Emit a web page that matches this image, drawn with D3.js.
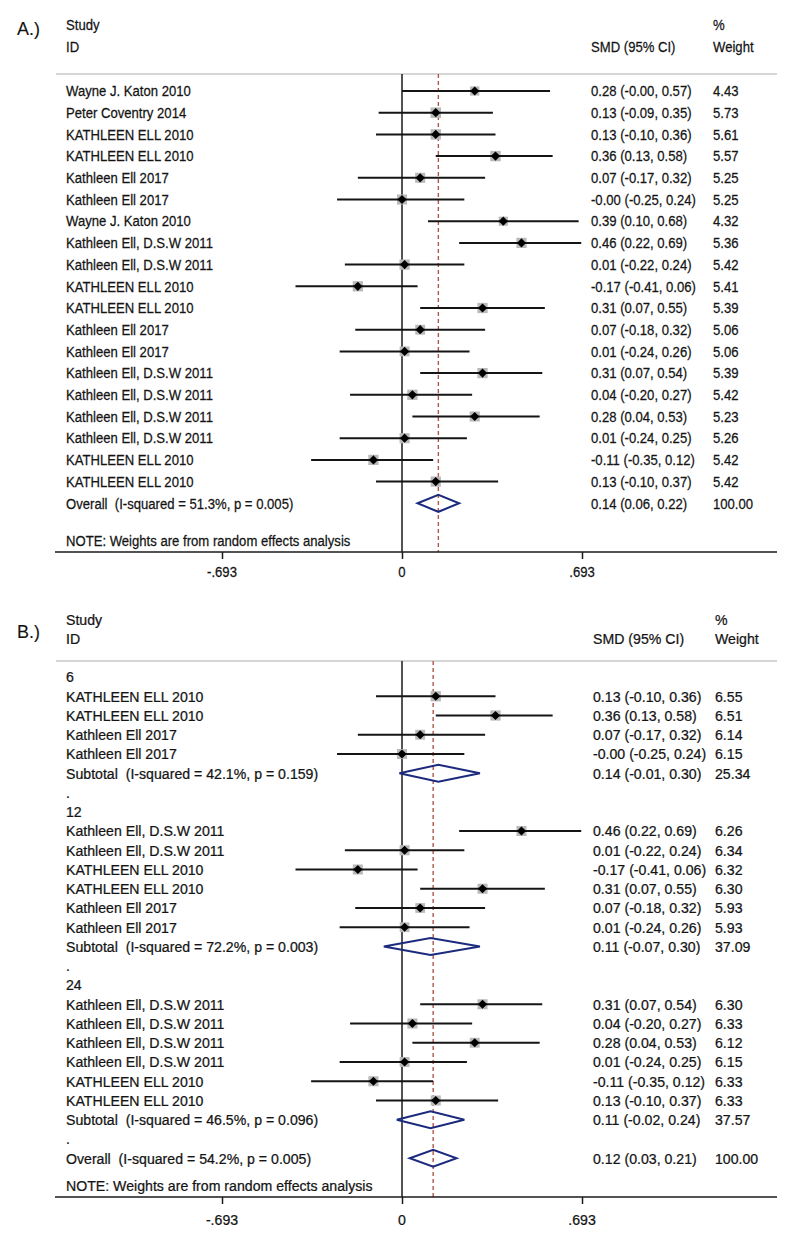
<!DOCTYPE html>
<html><head><meta charset="utf-8">
<script src="https://cdn.jsdelivr.net/npm/d3@7"></script>
<style>
html,body{margin:0;padding:0;background:#fff;}
svg{display:block;}
text{font-family:"Liberation Sans",Arial,sans-serif;fill:#141414;stroke:#141414;stroke-width:0.25px;white-space:pre;}
</style></head>
<body>
<div id="chart"></div>
<script>
// ---------- Panel A data ----------
const studiesA = ["Wayne J. Katon 2010","Peter Coventry 2014","KATHLEEN ELL 2010","KATHLEEN ELL 2010",
  "Kathleen Ell 2017","Kathleen Ell 2017","Wayne J. Katon 2010","Kathleen Ell, D.S.W 2011",
  "Kathleen Ell, D.S.W 2011","KATHLEEN ELL 2010","KATHLEEN ELL 2010","Kathleen Ell 2017",
  "Kathleen Ell 2017","Kathleen Ell, D.S.W 2011","Kathleen Ell, D.S.W 2011","Kathleen Ell, D.S.W 2011",
  "Kathleen Ell, D.S.W 2011","KATHLEEN ELL 2010","KATHLEEN ELL 2010"];
const esA     = [0.28, 0.13, 0.13, 0.36, 0.07, -0.00, 0.39, 0.46, 0.01, -0.17, 0.31, 0.07, 0.01, 0.31, 0.04, 0.28, 0.01, -0.11, 0.13];
const lowerA  = [-0.00, -0.09, -0.10, 0.13, -0.17, -0.25, 0.10, 0.22, -0.22, -0.41, 0.07, -0.18, -0.24, 0.07, -0.20, 0.04, -0.24, -0.35, -0.10];
const upperA  = [0.57, 0.35, 0.36, 0.58, 0.32, 0.24, 0.68, 0.69, 0.24, 0.06, 0.55, 0.32, 0.26, 0.54, 0.27, 0.53, 0.25, 0.12, 0.37];
const weightA = [4.43, 5.73, 5.61, 5.57, 5.25, 5.25, 4.32, 5.36, 5.42, 5.41, 5.39, 5.06, 5.06, 5.39, 5.42, 5.23, 5.26, 5.42, 5.42];
const overallLabelA = "Overall  (I-squared = 51.3%, p = 0.005)";
const overallA = [0.14, 0.06, 0.22, 100.00]; // es, lower, upper, weight

// ---------- Panel B data ----------
const groupsB = ["6", "12", "24"];
const studiesB = ["KATHLEEN ELL 2010","KATHLEEN ELL 2010","Kathleen Ell 2017","Kathleen Ell 2017",
  "Kathleen Ell, D.S.W 2011","Kathleen Ell, D.S.W 2011","KATHLEEN ELL 2010","KATHLEEN ELL 2010","Kathleen Ell 2017","Kathleen Ell 2017",
  "Kathleen Ell, D.S.W 2011","Kathleen Ell, D.S.W 2011","Kathleen Ell, D.S.W 2011","Kathleen Ell, D.S.W 2011","KATHLEEN ELL 2010","KATHLEEN ELL 2010"];
const groupOfB = [0,0,0,0, 1,1,1,1,1,1, 2,2,2,2,2,2];
const esB     = [0.13, 0.36, 0.07, -0.00, 0.46, 0.01, -0.17, 0.31, 0.07, 0.01, 0.31, 0.04, 0.28, 0.01, -0.11, 0.13];
const lowerB  = [-0.10, 0.13, -0.17, -0.25, 0.22, -0.22, -0.41, 0.07, -0.18, -0.24, 0.07, -0.20, 0.04, -0.24, -0.35, -0.10];
const upperB  = [0.36, 0.58, 0.32, 0.24, 0.69, 0.24, 0.06, 0.55, 0.32, 0.26, 0.54, 0.27, 0.53, 0.25, 0.12, 0.37];
const weightB = [6.55, 6.51, 6.14, 6.15, 6.26, 6.34, 6.32, 6.30, 5.93, 5.93, 6.30, 6.33, 6.12, 6.15, 6.33, 6.33];
const subLabelB = ["Subtotal  (I-squared = 42.1%, p = 0.159)","Subtotal  (I-squared = 72.2%, p = 0.003)","Subtotal  (I-squared = 46.5%, p = 0.096)"];
const subEsB  = [0.14, 0.11, 0.11];
const subLoB  = [-0.01, -0.07, -0.02];
const subHiB  = [0.30, 0.30, 0.24];
const subWtB  = [25.34, 37.09, 37.57];
const overallLabelB = "Overall  (I-squared = 54.2%, p = 0.005)";
const overallB = [0.12, 0.03, 0.21, 100.00];

// ---------- Axis ----------
const tickValues = [-0.693, 0, 0.693];
const tickLabels = ["-.693", "0", ".693"];
const noteText = "NOTE: Weights are from random effects analysis";

// ---------- helpers ----------
const W = 800, H = 1243;
const svg = d3.select("#chart").append("svg").attr("width", W).attr("height", H);
svg.append("rect").attr("width", W).attr("height", H).attr("fill", "#fff");

const x = d3.scaleLinear().domain([-0.693, 0.693]).range([222, 582]);

function f2(v) {
  const neg = v < 0 || Object.is(v, -0);
  return (neg ? "-" : "") + Math.abs(v).toFixed(2);
}
function ciText(es, lo, hi) { return f2(es) + " (" + f2(lo) + ", " + f2(hi) + ")"; }

function addText(g, xx, yy, str, cfg, extra) {
  const t = g.append("text")
    .attr("transform", `translate(${xx},${yy}) scale(${cfg.sx},1)`)
    .attr("dy", "0.36em")
    .attr("font-size", cfg.fs)
    .text(str);
  if (extra && extra.anchor) t.attr("text-anchor", extra.anchor);
  return t;
}

function drawPanel(cfg) {
  const g = svg.append("g");
  const rows = cfg.rows;
  const yOf = i => cfg.rowStart + i * cfg.rowStep;
  const lastY = cfg.axisY;

  // panel letter
  g.append("text").attr("x", 17).attr("y", cfg.letterY).attr("dy", "0.36em")
    .attr("font-size", 18).style("stroke-width", "0.1px").text(cfg.letter);

  // headers
  addText(g, 66, cfg.studyY, "Study", cfg);
  addText(g, 66, cfg.idY, "ID", cfg);
  addText(g, cfg.colSmd, cfg.idY, "SMD (95% CI)", cfg);
  addText(g, cfg.colWt, cfg.studyY, "%", cfg);
  addText(g, cfg.colWt, cfg.idY, "Weight", cfg);

  // header rule
  g.append("line").attr("x1", 56).attr("x2", 777).attr("y1", cfg.headerY).attr("y2", cfg.headerY)
    .attr("stroke", "#c8c8c8").attr("stroke-width", 1.6);

  // zero line
  g.append("line").attr("x1", x(0)).attr("x2", x(0)).attr("y1", cfg.headerY).attr("y2", lastY)
    .attr("stroke", "#1a1a1a").attr("stroke-width", 1.5);
  // overall dashed line
  g.append("line").attr("x1", x(cfg.overall[0])).attr("x2", x(cfg.overall[0]))
    .attr("y1", cfg.headerY).attr("y2", lastY)
    .attr("stroke", "#b0574c").attr("stroke-width", 1.4).attr("stroke-dasharray", "4,3");

  rows.forEach((r, i) => {
    const y = yOf(i);
    if (r.type === "study") {
      const side = cfg.boxK * Math.sqrt(r.wt);
      g.append("rect").attr("x", x(r.es) - side / 2).attr("y", y - side / 2)
        .attr("width", side).attr("height", side).attr("fill", "#b9b9b9");
      g.append("line").attr("x1", x(r.lo)).attr("x2", x(r.hi)).attr("y1", y).attr("y2", y)
        .attr("stroke", "#151515").attr("stroke-width", 2);
      const cx = x(r.es), m = 4.6;
      g.append("path").attr("d", `M${cx - m},${y}L${cx},${y - m}L${cx + m},${y}L${cx},${y + m}Z`)
        .attr("fill", "#000");
    } else if (r.type === "sum") {
      const h = 8.5;
      g.append("path")
        .attr("d", `M${x(r.lo)},${y}L${x(r.es)},${y - h}L${x(r.hi)},${y}L${x(r.es)},${y + h}Z`)
        .attr("fill", "none").attr("stroke", "#1c2a7e").attr("stroke-width", 2);
    }
    addText(g, 66, y, r.label, cfg);
    if (r.type === "study" || r.type === "sum") {
      addText(g, cfg.colSmd, y, ciText(r.es, r.lo, r.hi), cfg);
      addText(g, cfg.colWt, y, r.wt.toFixed(2), cfg);
    }
  });

  // note
  addText(g, 66, cfg.noteY, noteText, cfg);

  // axis
  g.append("line").attr("x1", 55).attr("x2", 777).attr("y1", cfg.axisY).attr("y2", cfg.axisY)
    .attr("stroke", "#1a1a1a").attr("stroke-width", 1.6);
  const axis = d3.axisBottom(x).tickValues(tickValues)
    .tickFormat((d, i) => tickLabels[i]).tickSize(7).tickPadding(6);
  const ag = g.append("g").attr("transform", `translate(0,${cfg.axisY})`).call(axis);
  ag.select(".domain").remove();
  ag.selectAll(".tick line").attr("stroke", "#1a1a1a").attr("stroke-width", 1.5);
  ag.selectAll(".tick text").remove();
  tickValues.forEach((v, i) => {
    addText(g, x(v), cfg.tickLabelY, tickLabels[i], cfg, {anchor: "middle"});
  });
}

// ---------- build rows ----------
const rowsA = studiesA.map((s, i) => ({type: "study", label: s, es: esA[i], lo: lowerA[i], hi: upperA[i], wt: weightA[i]}));
rowsA.push({type: "sum", label: overallLabelA, es: overallA[0], lo: overallA[1], hi: overallA[2], wt: overallA[3]});

const rowsB = [];
groupsB.forEach((gname, gi) => {
  rowsB.push({type: "label", label: gname});
  studiesB.forEach((s, i) => {
    if (groupOfB[i] === gi) rowsB.push({type: "study", label: s, es: esB[i], lo: lowerB[i], hi: upperB[i], wt: weightB[i]});
  });
  rowsB.push({type: "sum", label: subLabelB[gi], es: subEsB[gi], lo: subLoB[gi], hi: subHiB[gi], wt: subWtB[gi]});
  rowsB.push({type: "label", label: "."});
});
rowsB.push({type: "sum", label: overallLabelB, es: overallB[0], lo: overallB[1], hi: overallB[2], wt: overallB[3]});

drawPanel({
  letter: "A.)", letterY: 29, rows: rowsA, overall: overallA,
  fs: 14.5, sx: 0.905, boxK: 4.4,
  studyY: 25, idY: 47, headerY: 74, rowStart: 91, rowStep: 21.7,
  noteY: 541, axisY: 552, tickLabelY: 572, colSmd: 591, colWt: 713
});
drawPanel({
  letter: "B.)", letterY: 632, rows: rowsB, overall: overallB,
  fs: 14.8, sx: 0.955, boxK: 4.0,
  studyY: 620, idY: 639, headerY: 661, rowStart: 677, rowStep: 19.25,
  noteY: 1186, axisY: 1197, tickLabelY: 1220, colSmd: 593, colWt: 715
});
</script>
</body></html>
